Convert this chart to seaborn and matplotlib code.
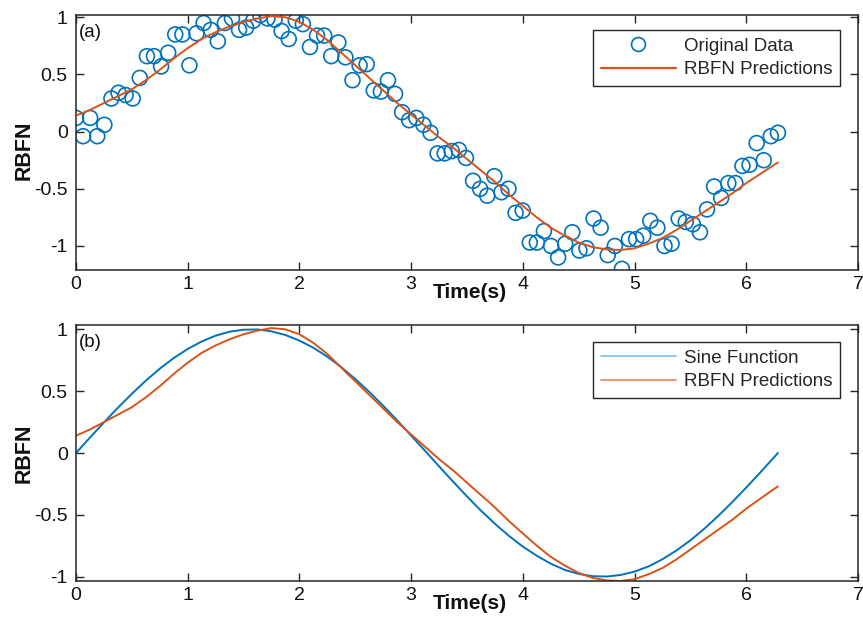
import numpy as np
import pandas as pd
import matplotlib
matplotlib.use("Agg")
import matplotlib.pyplot as plt
import seaborn as sns
from matplotlib.lines import Line2D

# ---------------- data ----------------
t_data = np.linspace(0, 2 * np.pi, 100)
y_data = [0.12, -0.04, 0.12, -0.04, 0.06, 0.29, 0.34, 0.32, 0.29, 0.47,
          0.66, 0.66, 0.57, 0.69, 0.85, 0.85, 0.58, 0.86, 0.95, 0.89,
          0.79, 0.95, 0.99, 0.89, 0.91, 0.97, 1.02, 0.99, 0.98, 0.88,
          0.81, 0.97, 0.94, 0.74, 0.84, 0.84, 0.66, 0.78, 0.65, 0.45,
          0.58, 0.59, 0.36, 0.35, 0.45, 0.33, 0.17, 0.10, 0.12, 0.06,
          -0.01, -0.19, -0.19, -0.17, -0.16, -0.23, -0.43, -0.50, -0.56, -0.39,
          -0.53, -0.50, -0.71, -0.69, -0.97, -0.97, -0.87, -1.00, -1.10, -0.98,
          -0.88, -1.04, -1.02, -0.76, -0.84, -1.08, -1.00, -1.20, -0.94, -0.94,
          -0.91, -0.78, -0.84, -1.00, -0.98, -0.76, -0.79, -0.81, -0.88, -0.68,
          -0.48, -0.58, -0.45, -0.45, -0.30, -0.29, -0.10, -0.25, -0.04, -0.01]

t_curve = [0.000, 0.125, 0.250, 0.375, 0.500, 0.625, 0.750, 0.875, 1.000, 1.125,
           1.250, 1.375, 1.500, 1.625, 1.750, 1.875, 2.000, 2.125, 2.250, 2.375,
           2.500, 2.625, 2.750, 2.875, 3.000, 3.125, 3.250, 3.375, 3.500, 3.625,
           3.750, 3.875, 4.000, 4.125, 4.250, 4.375, 4.500, 4.625, 4.750, 4.875,
           5.000, 5.125, 5.250, 5.375, 5.500, 5.625, 5.750, 5.875, 6.000, 6.125,
           6.250, 6.283]
rbfn = [0.14, 0.19, 0.25, 0.31, 0.37, 0.45, 0.54, 0.64, 0.73, 0.81,
        0.87, 0.92, 0.96, 0.99, 1.01, 1.00, 0.96, 0.89, 0.80, 0.69,
        0.58, 0.47, 0.36, 0.25, 0.15, 0.05, -0.05, -0.14, -0.24, -0.34,
        -0.44, -0.55, -0.65, -0.75, -0.84, -0.91, -0.97, -1.01, -1.03, -1.035,
        -1.02, -0.98, -0.93, -0.86, -0.78, -0.70, -0.62, -0.54, -0.45, -0.37,
        -0.29, -0.27]
sine = [0.000, 0.125, 0.247, 0.366, 0.479, 0.585, 0.682, 0.768, 0.841, 0.902,
        0.949, 0.981, 0.997, 0.999, 0.984, 0.954, 0.909, 0.851, 0.778, 0.694,
        0.598, 0.494, 0.382, 0.264, 0.141, 0.017, -0.108, -0.231, -0.351, -0.466,
        -0.572, -0.670, -0.757, -0.831, -0.895, -0.945, -0.978, -0.996, -0.999, -0.986,
        -0.959, -0.917, -0.859, -0.788, -0.706, -0.612, -0.508, -0.396, -0.279, -0.158,
        -0.033, 0.000]

xticks = [0, 1, 2, 3, 4, 5, 6, 7]
yticks = [-1, -0.5, 0, 0.5, 1]
ytick_labels = ["-1", "-0.5", "0", "0.5", "1"]

df_pts = pd.DataFrame({"t": t_data, "y": y_data})
df_cur = pd.DataFrame({"t": t_curve, "rbfn": rbfn, "sine": sine})

# ---------------- style ----------------
sns.set_style("ticks")
plt.rcParams["font.family"] = ["Liberation Sans", "DejaVu Sans"]

BLUE = "#0072BD"
RED = "#D95319"
DARK = "#262626"

W, H = 863, 637
fig = plt.figure(figsize=(W / 100, H / 100), dpi=100)
ax1 = fig.add_axes([76 / W, 1 - 270 / H, 782 / W, 255 / H])
ax2 = fig.add_axes([76 / W, 1 - 581 / H, 782 / W, 256 / H])

# (a)
sns.scatterplot(data=df_pts, x="t", y="y", ax=ax1, marker="o", s=115,
                fc="none", ec=BLUE, linewidth=1.2, zorder=2)
sns.lineplot(data=df_cur, x="t", y="rbfn", ax=ax1, color=RED, linewidth=1.4,
             sort=False, estimator=None, zorder=3)
ax1.set_ylim(-1.21, 1.02)

# (b)
sns.lineplot(data=df_cur, x="t", y="sine", ax=ax2, color=BLUE, linewidth=1.4,
             sort=False, estimator=None)
sns.lineplot(data=df_cur, x="t", y="rbfn", ax=ax2, color=RED, linewidth=1.4,
             sort=False, estimator=None)
ax2.set_ylim(-1.035, 1.035)

for ax, lab, ylab_y in ((ax1, "(a)", 0.47), (ax2, "(b)", 0.5)):
    ax.set_xlim(0, 7)
    ax.set_xticks(xticks)
    ax.set_xticklabels([str(v) for v in xticks])
    ax.set_yticks(yticks)
    ax.set_yticklabels(ytick_labels)
    ax.tick_params(direction="in", length=6, width=1, colors=DARK,
                   labelsize=14, top=True, right=True, labelcolor="#111111")
    ax.tick_params(axis="x", pad=4)
    ax.tick_params(axis="y", pad=6)
    for sp in ax.spines.values():
        sp.set_visible(True)
        sp.set_color(DARK)
        sp.set_linewidth(1.1)
    ax.set_xlabel("Time(s)", fontsize=15, fontweight="bold", color="#111111")
    ax.set_ylabel("RBFN", fontsize=15.5, fontweight="bold", color="#111111")
    ax.xaxis.set_label_coords(0.504, -0.05)
    ax.yaxis.set_label_coords(-0.053, ylab_y)
    ax.text(0.004, 0.965, lab, transform=ax.transAxes, fontsize=13.5,
            va="top", ha="left", color="#111111")

h1 = [Line2D([], [], marker="o", linestyle="none", markersize=10,
             markerfacecolor="none", markeredgecolor=BLUE, markeredgewidth=1.2),
      Line2D([], [], color=RED, linewidth=1.6)]
leg1 = ax1.legend(h1, ["Original Data", "RBFN Predictions"], loc="upper right",
                  bbox_to_anchor=(840 / W, 1 - 30 / H), bbox_transform=fig.transFigure,
                  borderaxespad=0, fontsize=13.5, handlelength=4.0, handletextpad=0.45,
                  frameon=True, fancybox=False, framealpha=1, edgecolor=DARK,
                  labelspacing=0.35, borderpad=0.4)
leg1.get_frame().set_linewidth(1.0)

h2 = [Line2D([], [], color="#8ecbf0", linewidth=1.4),
      Line2D([], [], color="#f3957a", linewidth=1.4)]
leg2 = ax2.legend(h2, ["Sine Function", "RBFN Predictions"], loc="upper right",
                  bbox_to_anchor=(840 / W, 1 - 342 / H), bbox_transform=fig.transFigure,
                  borderaxespad=0, fontsize=13.5, handlelength=4.0, handletextpad=0.45,
                  frameon=True, fancybox=False, framealpha=1, edgecolor=DARK,
                  labelspacing=0.35, borderpad=0.4)
leg2.get_frame().set_linewidth(1.0)

fig.savefig("out.png", dpi=100)
